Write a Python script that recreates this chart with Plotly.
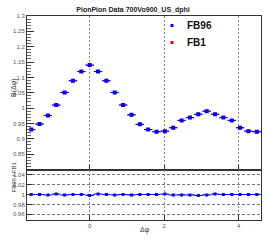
import numpy as np
import plotly.graph_objects as go

# ---- data ----
nbins = 28
bin_w = 2 * np.pi / nbins
dphi = [-np.pi / 2 + k * bin_w for k in range(nbins)]

fb96 = [0.930, 0.948, 0.976, 1.010, 1.051, 1.089, 1.119, 1.140,
        1.119, 1.089, 1.051, 1.010, 0.978, 0.947, 0.930, 0.923,
        0.925, 0.936, 0.960, 0.969, 0.980, 0.990, 0.980, 0.969,
        0.960, 0.936, 0.925, 0.923]
fb1 = [0.930, 0.948, 0.976, 1.010, 1.051, 1.089, 1.119, 1.140,
       1.119, 1.089, 1.051, 1.010, 0.978, 0.947, 0.930, 0.923,
       0.925, 0.936, 0.960, 0.969, 0.980, 0.990, 0.980, 0.969,
       0.960, 0.936, 0.925, 0.923]
ratio = [1.000, 1.000, 0.999, 1.001, 0.999, 1.000, 1.000, 0.998,
         1.001, 1.000, 0.999, 1.000, 0.999, 1.000, 1.000, 1.000,
         1.001, 0.999, 0.999, 0.999, 0.998, 0.999, 1.001, 1.000,
         1.000, 1.000, 1.000, 1.000]
err_y = [0.003] * nbins
err_r = [0.001] * nbins
xerr = [bin_w / 2] * nbins

title = "PionPion Data 700Vo900_US_dphi"
series_names = ["FB96", "FB1"]
series_colors = ["#0000ff", "#ff0000"]
yticks_top = [0.85, 0.9, 0.95, 1, 1.05, 1.1, 1.15, 1.2, 1.25, 1.3]
yticks_ratio = [0.96, 0.98, 1, 1.02, 1.04]
xticks = [0, 2, 4]

W, H = 266, 242
L, R, T, B = 27, 5, 16, 22
PW, PH = W - L - R, H - T - B
split = (H - B - 169.5) / PH


def px_x(x):  # pixel -> paper
    return (x - L) / PW


def px_y(y):
    return (H - B - y) / PH


FONT = "Liberation Sans"
fig = go.Figure()

fig.add_trace(go.Scatter(
    x=dphi, y=fb1, mode="markers", name="FB1",
    marker=dict(symbol="square", size=3, color=series_colors[1]),
    error_x=dict(type="data", array=xerr, color=series_colors[1], thickness=1, width=0),
    error_y=dict(type="data", array=err_y, color=series_colors[1], thickness=1, width=0),
    xaxis="x", yaxis="y", hoverinfo="skip"))
fig.add_trace(go.Scatter(
    x=dphi, y=fb96, mode="markers", name="FB96",
    marker=dict(symbol="square", size=4, color=series_colors[0]),
    error_x=dict(type="data", array=xerr, color=series_colors[0], thickness=1, width=0),
    error_y=dict(type="data", array=err_y, color=series_colors[0], thickness=1, width=0),
    xaxis="x", yaxis="y", hoverinfo="skip"))
fig.add_trace(go.Scatter(
    x=dphi, y=ratio, mode="markers", name="ratio",
    marker=dict(symbol="square", size=3, color=series_colors[0]),
    error_x=dict(type="data", array=xerr, color=series_colors[0], thickness=1, width=0),
    error_y=dict(type="data", array=err_r, color=series_colors[0], thickness=1, width=0),
    xaxis="x2", yaxis="y2", hoverinfo="skip"))

xrange = [-np.pi / 2 - bin_w / 2, 3 * np.pi / 2 - bin_w / 2]
axis_common = dict(showline=True, linecolor="#333333", linewidth=1, mirror=True,
                   zeroline=False, ticks="inside", tickcolor="#333333", automargin=False,
                   tickfont=dict(family=FONT, size=6, color="#555555"))

annotations = [
    dict(text="B(Δφ)", x=px_x(8), y=px_y(88), xref="paper", yref="paper",
         textangle=-90, showarrow=False, font=dict(family=FONT, size=7, color="#333333")),
    dict(text="FB96 / FB1", x=px_x(8), y=px_y(195), xref="paper", yref="paper",
         textangle=-90, showarrow=False, font=dict(family=FONT, size=6, color="#333333")),
    dict(text="Δφ", x=px_x(145), y=px_y(236), xref="paper", yref="paper",
         showarrow=False, font=dict(family=FONT, size=7, color="#333333")),
]
shapes = []
for i, (name, col) in enumerate(zip(series_names, series_colors)):
    yc = 25.5 + 17 * i
    annotations.append(dict(text="<b>" + name + "</b>", x=px_x(185), y=px_y(yc),
                            xref="paper", yref="paper", xanchor="left", yanchor="middle",
                            showarrow=False, font=dict(family=FONT, size=10, color="#111111")))
    shapes.append(dict(type="rect", xref="paper", yref="paper",
                       x0=px_x(170.5), x1=px_x(173.5), y0=px_y(yc + 1.5), y1=px_y(yc - 1.5),
                       fillcolor=col, line=dict(width=0)))

fig.update_layout(
    width=W, height=H,
    margin=dict(l=L, r=R, t=T, b=B, autoexpand=False),
    paper_bgcolor="white", plot_bgcolor="white",
    font=dict(family=FONT, color="#222222"),
    showlegend=False,
    hovermode=False,
    title=dict(text="<b>" + title + "</b>", x=133 / W, xanchor="center",
               y=1 - 10 / H, yanchor="middle",
               font=dict(family=FONT, size=7, color="#222222")),
    xaxis=dict(domain=[0, 1], range=xrange, anchor="y", tickvals=xticks,
               showticklabels=False, ticklen=5, showgrid=True,
               gridcolor="#888888", griddash="2px,2px", gridwidth=1, **axis_common),
    yaxis=dict(domain=[split, 1], range=[0.8, 1.3], anchor="x",
               tickvals=yticks_top, ticklen=7, showgrid=False,
               minor=dict(dtick=0.01, ticks="inside", ticklen=4, tickcolor="#666666", showgrid=False),
               **axis_common),
    xaxis2=dict(domain=[0, 1], range=xrange, anchor="y2", tickvals=xticks,
                ticklen=5, showgrid=True, gridcolor="#888888", griddash="2px,2px",
                gridwidth=1, **axis_common),
    yaxis2=dict(domain=[0, split], range=[0.9485, 1.0505], anchor="x2",
                tickvals=yticks_ratio, ticktext=["0.96", "0.98", "1", "1.02", "1.04"],
                ticklen=5, showgrid=True, gridcolor="#777777", griddash="3px,2px", gridwidth=1,
                **axis_common),
    annotations=annotations,
    shapes=shapes,
)

fig.write_html("out.html", config={"displayModeBar": False, "staticPlot": True},
               post_script="document.body.style.margin='0';document.body.style.overflow='hidden';")
